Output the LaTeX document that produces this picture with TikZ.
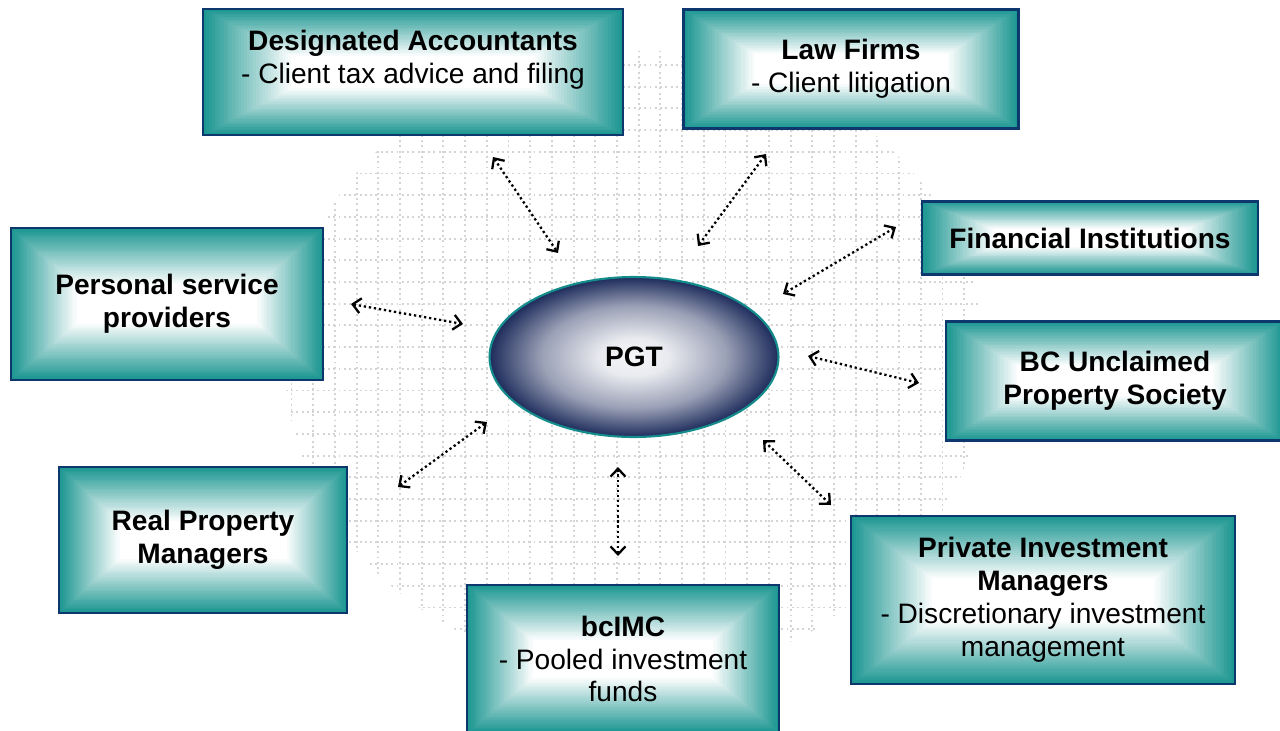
\documentclass[tikz,border=0pt]{standalone}
\usepackage{fontspec}
\setmainfont{Liberation Sans}
\usetikzlibrary{shapes.geometric,arrows.meta,calc}

\definecolor{boxteal}{RGB}{28,150,145}
\definecolor{boxline}{RGB}{12,56,110}
\definecolor{ellnavy}{RGB}{30,44,92}
\definecolor{ellline}{RGB}{20,140,140}
\definecolor{gridgray}{RGB}{212,212,212}

\newcommand{\boxfont}{\fontsize{16}{18.7}\selectfont}

\pgfdeclareradialshading{pgtshade}{\pgfpoint{0bp}{0bp}}{%
  color(0bp)=(white!96!ellnavy); color(6bp)=(white!90!ellnavy);
  color(16bp)=(white!55!ellnavy); color(25bp)=(ellnavy); color(50bp)=(ellnavy)}

\tikzset{
  box/.style={rectangle, draw=boxline, line width=1.4pt, align=center,
    inner sep=0pt, font=\boxfont,
    path picture={
      \foreach \i in {0,...,30} {
        \pgfmathsetmacro\boxmix{100-\i*100/30}
        \pgfmathsetmacro\boxfx{\i/30*0.21}
        \pgfmathsetmacro\boxfy{\i/30*0.37}
        \fill [boxteal!\boxmix!white]
          let \p1=(path picture bounding box.south west),
              \p2=(path picture bounding box.north east) in
          ({\x1+\boxfx*(\x2-\x1)},{\y1+\boxfy*(\y2-\y1)})
          rectangle
          ({\x2-\boxfx*(\x2-\x1)},{\y2-\boxfy*(\y2-\y1)});
      }
    }},
  pgt/.style={ellipse, draw=ellline, line width=1.2pt, shading=pgtshade,
    minimum width=5.78cm, minimum height=3.2cm, font=\boxfont\bfseries},
  link/.style={{Straight Barb[length=1.6mm,width=3mm]}-{Straight Barb[length=1.6mm,width=3mm]},
    line width=1.3pt, dash pattern=on 1.3pt off 1.6pt},
  gridline/.style={gridgray, line width=1.1pt, dash pattern=on 1.1pt off 1.9pt}
}

\begin{document}
\begin{tikzpicture}[x=0.02cm, y=-0.02cm]
    \useasboundingbox (0,0) rectangle (1280,730);

    % dotted grid behind the centre
    \begin{scope}
        \clip (635,362) ellipse [x radius=350, y radius=312];
        \foreach \k in {-6,...,28}
            \draw [gridline] ({400+21.7*\k},40) -- ({400+21.7*\k},690);
        \foreach \k in {-1,...,29}
            \draw [gridline] (270,{65+21.7*\k}) -- (1000,{65+21.7*\k});
    \end{scope}

    \path ( 634, 357) node [pgt] (pgt) {PGT};

    \path ( 413,  72) node [box,minimum width=8.4cm,minimum height=2.52cm,text depth=0.62cm] (acct)
        {\textbf{Designated Accountants}\\- Client tax advice and filing};
    \path ( 851,  69) node [box,minimum width=6.7cm,minimum height=2.38cm] (law)
        {\textbf{Law Firms}\\- Client litigation};
    \path (1090, 238) node [box,minimum width=6.72cm,minimum height=1.46cm] (fin)
        {\textbf{Financial Institutions}};
    \path (1115, 381) node [box,minimum width=6.76cm,minimum height=2.38cm] (bcups)
        {\textbf{BC Unclaimed}\\\textbf{Property Society}};
    \path (1043, 600) node [box,minimum width=7.68cm,minimum height=3.36cm] (pim)
        {\textbf{Private Investment}\\\textbf{Managers}\\- Discretionary investment\\management};
    \path ( 623, 659) node [box,minimum width=6.24cm,minimum height=2.96cm] (bcimc)
        {\textbf{bcIMC}\\- Pooled investment\\funds};
    \path ( 203, 540) node [box,minimum width=5.76cm,minimum height=2.92cm] (realprop)
        {\textbf{Real Property}\\\textbf{Managers}};
    \path ( 167, 304) node [box,minimum width=6.24cm,minimum height=3.04cm] (personal)
        {\textbf{Personal service}\\\textbf{providers}};

    % free ends of the two-way links
    \coordinate (acct-a) at (493,157);     \coordinate (acct-b) at (558,253);
    \coordinate (law-a) at (766,154);      \coordinate (law-b) at (698,246);
    \coordinate (fin-a) at (896,227);      \coordinate (fin-b) at (783,294);
    \coordinate (bcups-a) at (919,383);    \coordinate (bcups-b) at (808,356);
    \coordinate (pim-a) at (831,505);      \coordinate (pim-b) at (763,440);
    \coordinate (bcimc-a) at (618,556);    \coordinate (bcimc-b) at (618,467);
    \coordinate (realprop-a) at (398,487); \coordinate (realprop-b) at (487,422);
    \coordinate (personal-a) at (351,304); \coordinate (personal-b) at (463,324);

    \draw [link] (acct-a) -- (acct-b);
    \draw [link] (law-a) -- (law-b);
    \draw [link] (fin-a) -- (fin-b);
    \draw [link] (bcups-a) -- (bcups-b);
    \draw [link] (pim-a) -- (pim-b);
    \draw [link] (bcimc-a) -- (bcimc-b);
    \draw [link] (realprop-a) -- (realprop-b);
    \draw [link] (personal-a) -- (personal-b);
\end{tikzpicture}
\end{document}
